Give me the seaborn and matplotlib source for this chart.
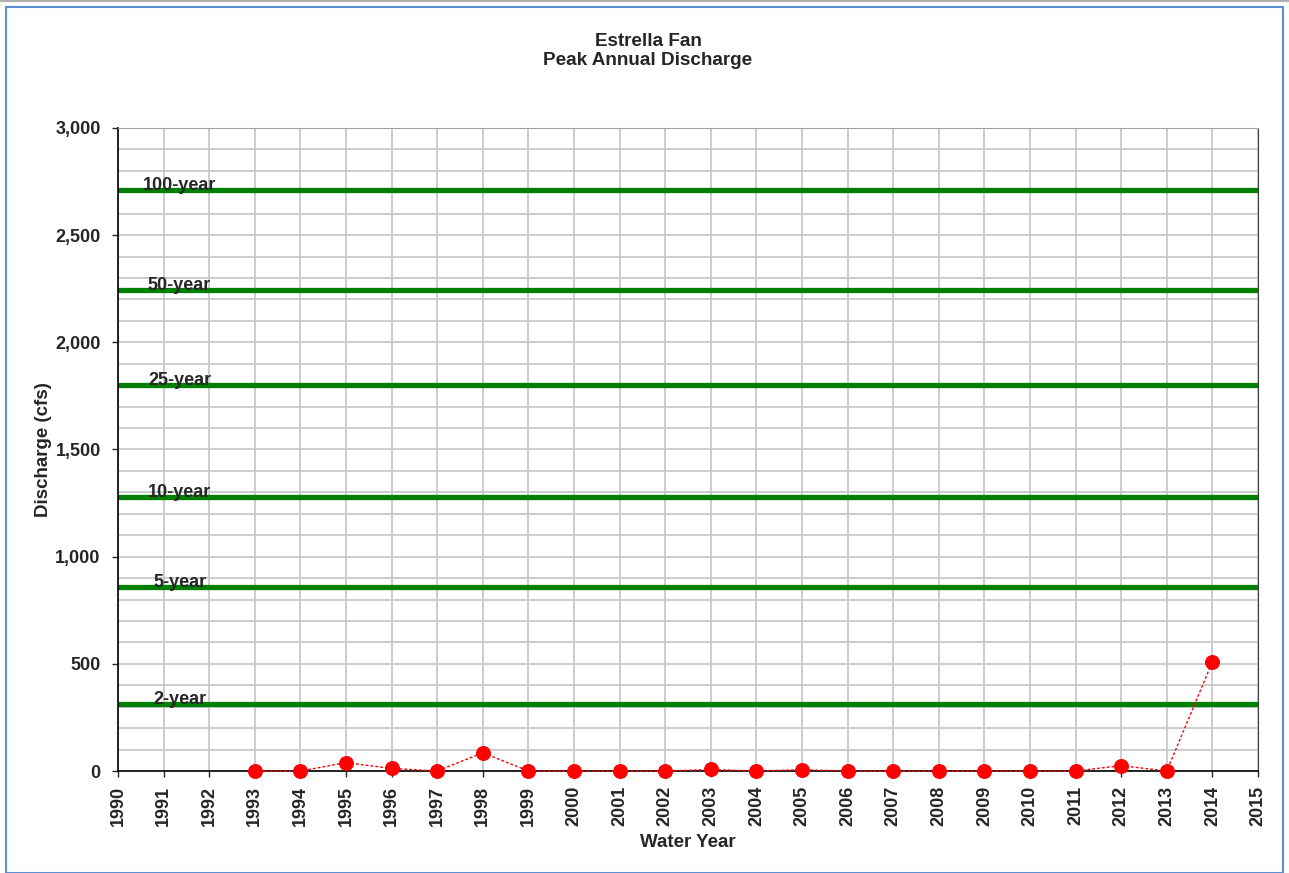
import numpy as np
import pandas as pd
import matplotlib
matplotlib.use('Agg')
import matplotlib.pyplot as plt
import matplotlib.ticker as mticker
from matplotlib.patches import Rectangle
from matplotlib.lines import Line2D
import seaborn as sns

# peak annual discharge (cfs)
years = list(range(1993, 2015))
peaks = [0, 0, 39, 12, 0, 85, 0, 0, 0, 0, 7, 0, 6, 0, 0, 0, 0, 0, 0, 25, 0, 510]

# return period discharges
rp_labels = ['2-year', '5-year', '10-year', '25-year', '50-year', '100-year']
rp_values = [313, 859, 1279, 1801, 2245, 2711]

df = pd.DataFrame({'year': years, 'peak': peaks})

sns.set_style('white')
plt.rcParams['font.family'] = ['Liberation Sans', 'DejaVu Sans']
plt.rcParams['font.weight'] = 'bold'

fig = plt.figure(figsize=(12.89, 8.73), dpi=100)
ax = fig.add_axes([118/1289, 1-771/873, 1140/1289, 643/873])

# excel style chart border
fig.patches.append(Rectangle((6/1289, 0), 1277/1289, 1-7/873, transform=fig.transFigure,
                             fill=False, edgecolor='#5b8fd0', linewidth=1.5))
fig.lines.append(Line2D([0, 1], [1-1/873, 1-1/873], transform=fig.transFigure,
                        color='#b0b0b0', linewidth=1.5))

ax.set_xlim(1990, 2015)
ax.set_ylim(0, 3000)
ax.set_xticks(range(1990, 2016))
ax.set_yticks(range(0, 3001, 500))
ax.yaxis.set_minor_locator(mticker.MultipleLocator(100))
ax.yaxis.set_major_formatter(mticker.FuncFormatter(lambda v, p: f'{int(v):,}'))
ax.grid(True, which='both', color='#c8c8c8', linewidth=1.3)
ax.set_axisbelow(True)

for lab, val in zip(rp_labels, rp_values):
    ax.axhline(val, color='#008000', linewidth=3.8, zorder=2)
    ax.text(1991.35, val, lab, fontsize=13, fontweight='bold', ha='center', va='baseline', zorder=3)

sns.lineplot(data=df, x='year', y='peak', ax=ax, color='#ff0000', linestyle=(0, (2, 1.5)),
             linewidth=1, marker='o', markersize=10, markeredgecolor='#ff0000', zorder=4, clip_on=False)

ax.tick_params(axis='x', labelrotation=90, length=4.5, width=1, direction='out', bottom=True,
               labelsize=13, pad=6)
ax.tick_params(axis='y', length=4.5, width=1, direction='out', left=True, labelsize=13, pad=8)
ax.tick_params(which='minor', length=0)
for t in ax.get_xticklabels() + ax.get_yticklabels():
    t.set_fontweight('bold')

for s in ['left', 'bottom']:
    ax.spines[s].set_color('black')
    ax.spines[s].set_linewidth(1.2)
ax.spines['right'].set_color('#404040')
ax.spines['top'].set_color('#a0a0a0')

ax.set_xlabel('Water Year', fontsize=13.5, fontweight='bold', labelpad=6)
ax.set_ylabel('Discharge (cfs)', fontsize=13.5, fontweight='bold', labelpad=2)
fig.text(648/1289, 1-51/873, 'Estrella Fan\nPeak Annual Discharge', ha='center', va='center',
         fontsize=13.6, fontweight='bold', linespacing=1.1)

fig.savefig('out.png', dpi=100)
